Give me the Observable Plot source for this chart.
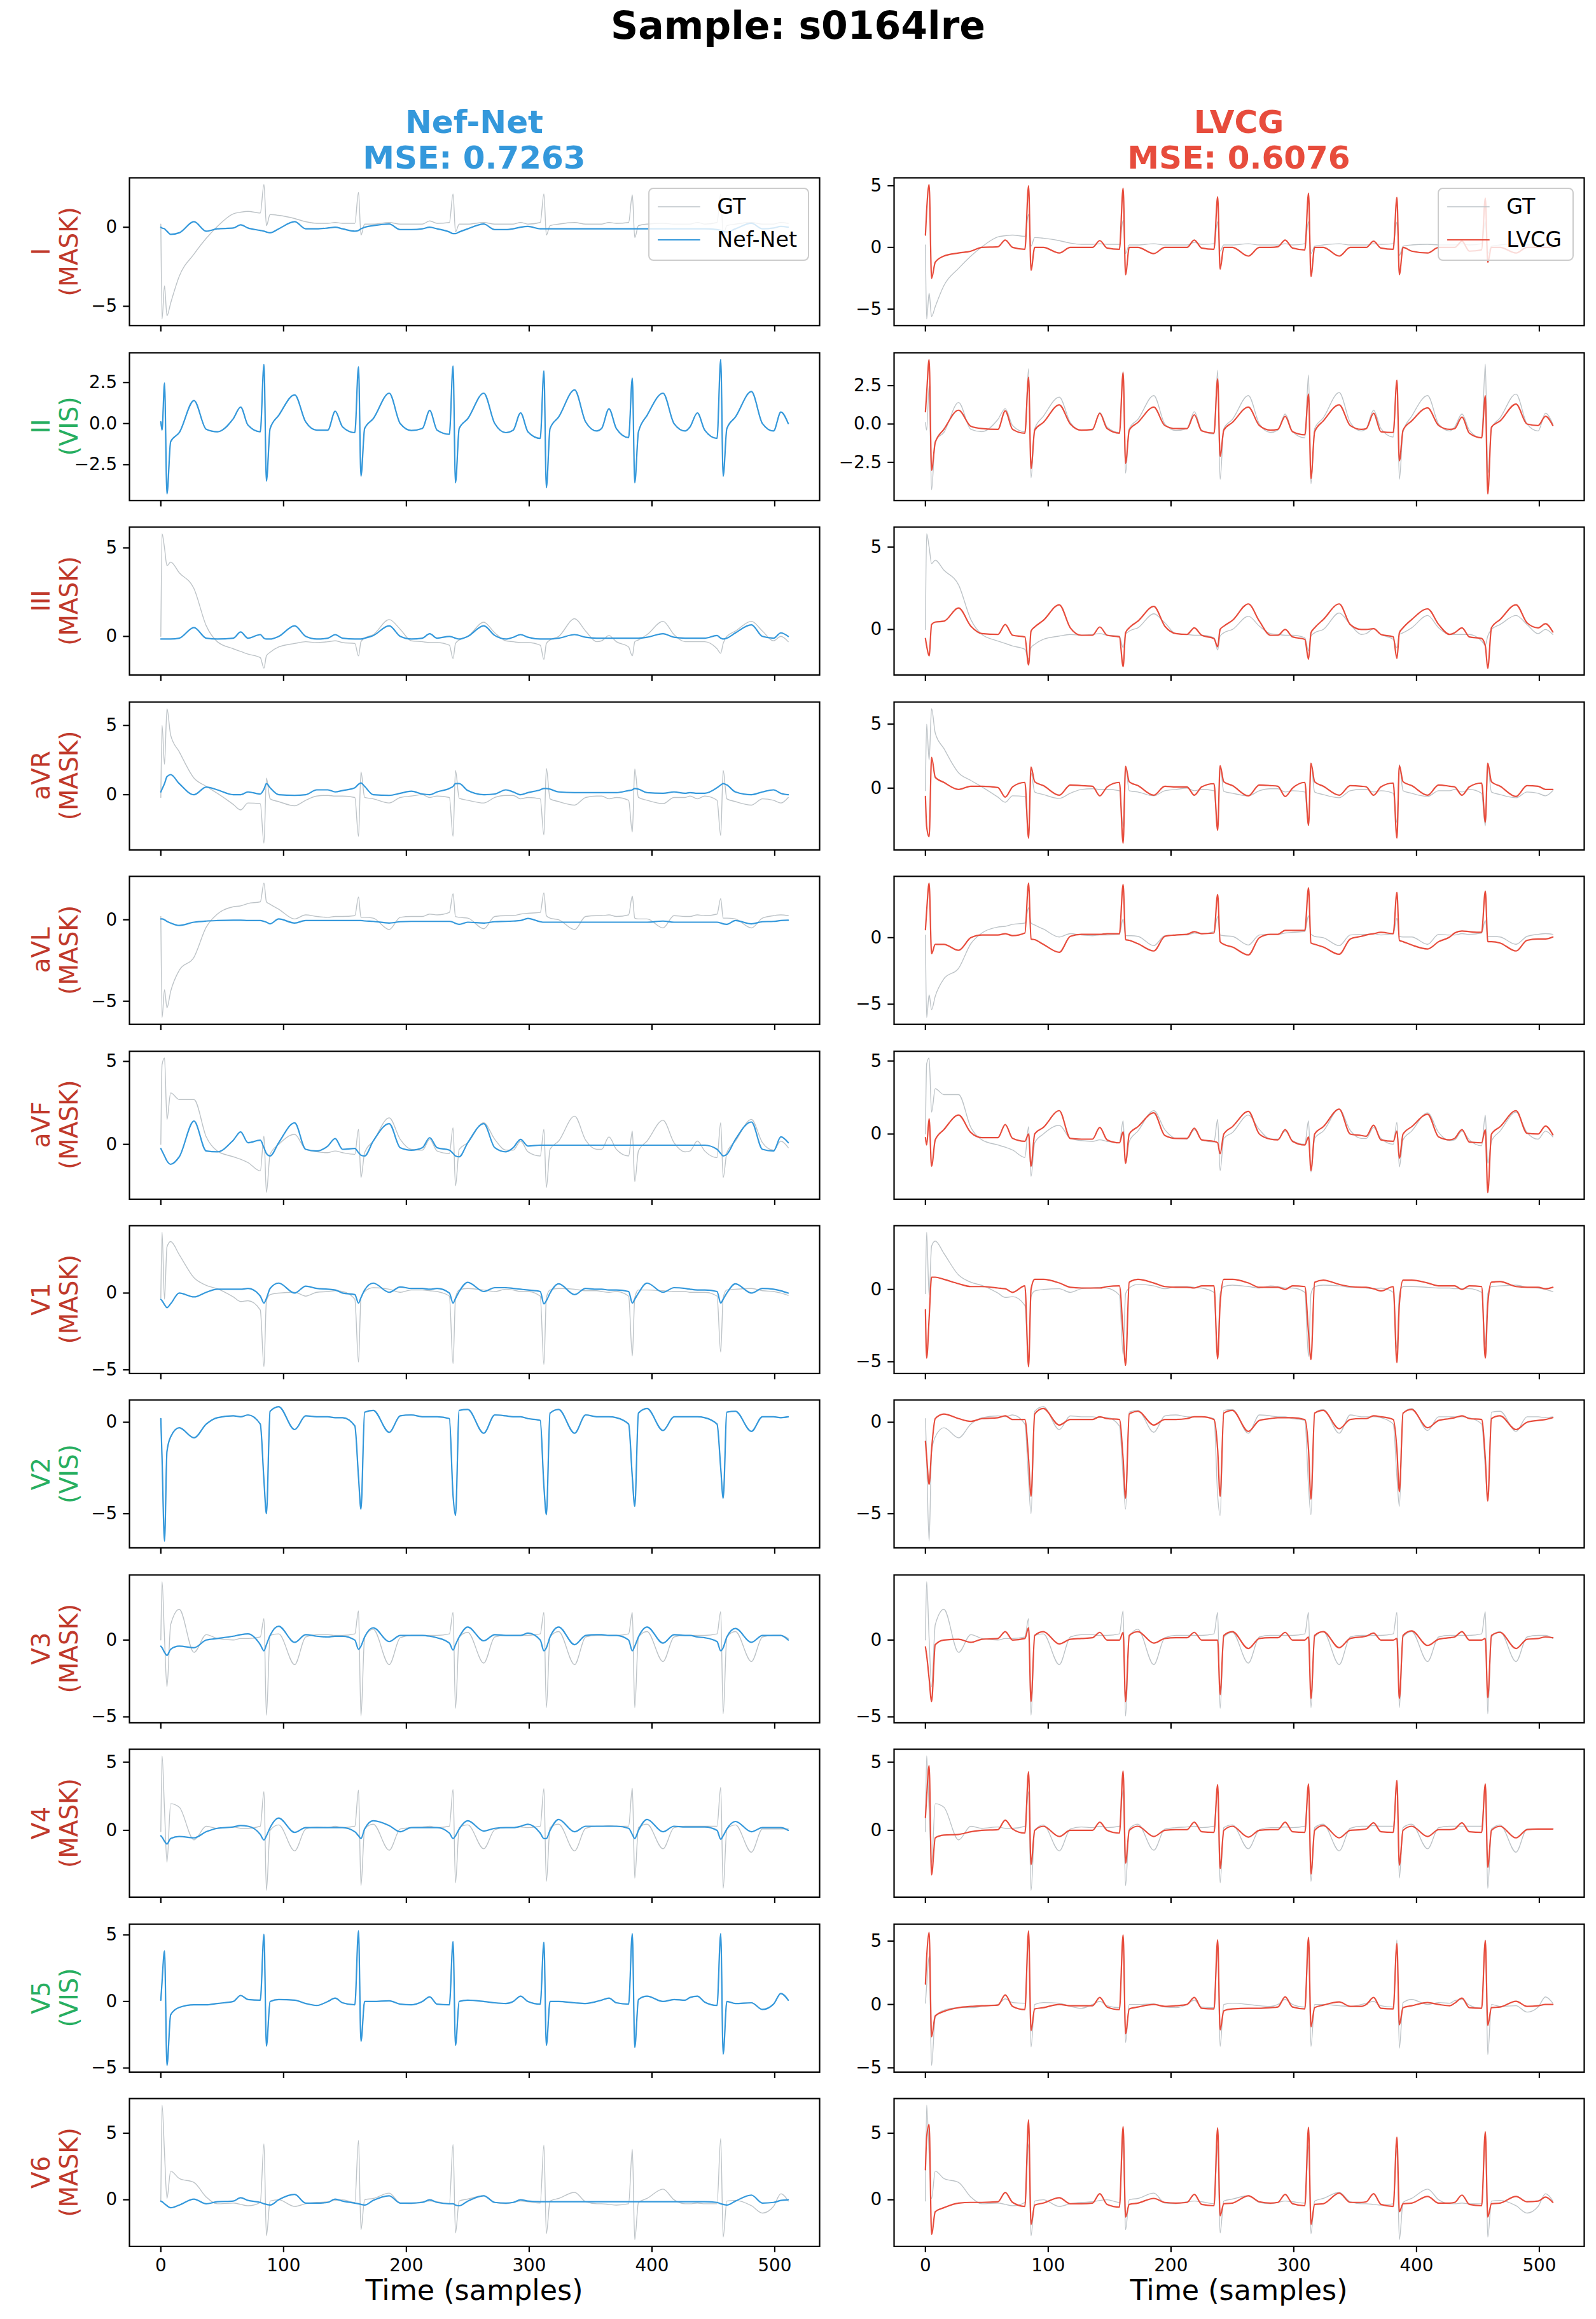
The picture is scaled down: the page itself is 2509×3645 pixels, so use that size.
<!DOCTYPE html>
<html>
<head>
<meta charset="utf-8">
<script src="https://cdn.jsdelivr.net/npm/d3@7"></script>
<script src="https://cdn.jsdelivr.net/npm/@observablehq/plot@0.6"></script>
<style>
  html, body { margin: 0; padding: 0; background: #fff; }
  #fig { position: relative; width: 2509px; height: 3645px; background: #fff; overflow: hidden; }
  #fig > svg { position: absolute; }
</style>
</head>
<body>
<div id="fig"></div>
<script>
// ---- ECG reconstruction data (12 leads, 512 samples, values in mV) ----
// Sample positions at which every series below is given.
const t = [
  0, 1, 3, 5, 8, 15, 27, 37, 46,
  59, 65, 71, 81, 84, 86, 89, 96, 109, 118, 127,
  136, 142, 148, 158, 161, 163, 166, 173, 186, 195, 204,
  213, 219, 225, 235, 238, 240, 243, 250, 263, 272, 281,
  287, 293, 299, 309, 312, 314, 317, 324, 337, 346, 355,
  359, 365, 371, 381, 384, 386, 389, 396, 409, 418, 427,
  431, 437, 443, 453, 456, 458, 461, 468, 481, 490, 499,
  505, 511
];

const leads = ["I", "II", "III", "aVR", "aVL", "aVF", "V1", "V2", "V3", "V4", "V5", "V6"];
const leadStatus = ["MASK", "VIS", "MASK", "MASK", "MASK", "MASK", "MASK", "VIS", "MASK", "MASK", "VIS", "MASK"];

const sampleId = "s0164lre";
const modelNames = ["Nef-Net", "LVCG"];
const modelMse = [0.7263, 0.6076];

const xTicks = [0, 100, 200, 300, 400, 500];
const yTicksNefNet = [[-5, 0], [-2.5, 0, 2.5], [0, 5], [0, 5], [-5, 0], [0, 5], [-5, 0], [-5, 0], [-5, 0], [0, 5], [-5, 0, 5], [0, 5]];
const yTicksLvcg   = [[-5, 0, 5], [-2.5, 0, 2.5], [0, 5], [0, 5], [-5, 0], [0, 5], [-5, 0], [-5, 0], [-5, 0], [0, 5], [-5, 0, 5], [0, 5]];

// Ground truth
const gtI = [0.2,-5.8,-3.7,-5.6,-4.8,-3.1,-1.7,-0.7,0.05,
  0.85,0.95,1.0,0.9,2.7,0.1,0.8,0.75,0.55,0.35,0.25,
  0.25,0.3,0.25,0.25,2.2,-0.5,0.2,0.2,0.3,0.2,0.2,
  0.2,0.4,0.25,0.3,2.1,-0.3,0.2,0.2,0.3,0.2,0.2,
  0.2,0.3,0.2,0.3,2.1,-0.5,0.1,0.2,0.3,0.2,0.2,
  0.2,0.3,0.25,0.3,2.05,-0.65,0.1,0.2,0.25,0.2,0.2,
  0.2,0.3,0.2,0.3,2.1,-0.5,0.1,0.2,0.3,0.2,0.2,
  0.3,0.25];
const gtII = [0.1,-0.4,2.47,-4.28,-1.1,-0.55,1.4,-0.35,-0.5,
  0.3,1.0,-0.1,-0.5,3.6,-3.5,-0.3,0.5,1.75,0.1,-0.4,
  -0.4,0.75,-0.2,-0.55,3.45,-3.2,-0.3,0.3,1.85,0.0,-0.42,
  -0.3,0.8,-0.4,-0.65,3.5,-3.6,-0.3,0.3,1.85,0.0,-0.55,
  -0.4,0.65,-0.5,-0.9,3.2,-3.9,-0.3,0.4,2.05,0.1,-0.45,
  -0.3,0.9,-0.3,-0.85,2.77,-3.6,-0.5,0.5,1.85,0.0,-0.45,
  -0.2,0.65,-0.4,-0.9,3.9,-3.2,-0.3,0.4,1.95,0.0,-0.45,
  0.7,0.0];
const gtIII = [0.0,5.8,5.0,4.0,4.2,3.6,2.7,0.6,-0.3,
  -0.7,-0.85,-1.0,-1.2,-1.8,-1.1,-0.9,-0.6,-0.4,-0.3,-0.35,
  -0.3,-0.25,-0.35,-0.4,-1.1,-0.3,-0.1,0.1,0.95,0.4,-0.25,
  -0.3,-0.35,-0.35,-0.5,-1.25,-0.4,-0.2,0.0,0.8,0.2,-0.25,
  -0.3,-0.35,-0.35,-0.5,-1.3,-0.4,-0.2,0.0,1.0,0.3,-0.3,
  -0.25,0.05,-0.3,-0.6,-1.1,-0.3,-0.2,0.1,0.85,0.1,-0.3,
  -0.3,-0.3,-0.3,-0.7,-0.95,-0.4,0.0,0.3,0.85,0.3,-0.25,
  0.0,-0.3];
const gtAVR = [-0.2,5.0,2.2,6.2,4.3,3.1,1.2,0.6,0.1,
  -0.7,-1.1,-0.6,-0.65,-3.5,1.2,-0.3,-0.5,-0.8,-0.4,-0.1,
  -0.05,-0.1,-0.1,-0.2,-3.0,1.65,-0.2,-0.3,-0.6,-0.2,-0.1,
  0.0,-0.2,-0.1,-0.2,-3.0,1.75,-0.25,-0.4,-0.6,-0.2,-0.05,
  -0.05,-0.3,-0.2,-0.3,-2.9,1.9,-0.3,-0.5,-0.75,-0.2,-0.1,
  -0.1,-0.3,-0.2,-0.4,-2.7,1.85,-0.2,-0.4,-0.65,-0.2,-0.2,
  -0.1,-0.3,-0.1,-0.4,-2.95,1.75,-0.3,-0.5,-0.75,-0.3,-0.4,
  -0.6,-0.2];
const gtAVL = [0.2,-6.0,-4.3,-5.4,-4.4,-3.1,-2.3,-0.45,0.35,
  0.8,0.85,1.0,1.1,2.25,1.1,0.95,0.65,0.05,0.3,0.2,
  0.15,0.2,0.2,0.25,1.4,0.15,0.15,0.1,-0.6,0.15,0.2,
  0.2,0.35,0.3,0.45,1.6,0.2,0.15,0.1,-0.55,0.2,0.25,
  0.25,0.35,0.4,0.45,1.65,0.25,0.1,0.0,-0.6,0.2,0.25,
  0.25,0.3,0.2,0.3,1.45,0.1,0.05,0.05,-0.5,0.25,0.2,
  0.2,0.3,0.25,0.35,1.3,0.1,0.1,0.05,-0.5,0.1,0.25,
  0.3,0.25];
const gtAVF = [0.0,4.8,5.2,1.5,3.1,2.7,2.7,0.45,-0.4,
  -0.75,-0.9,-1.1,-1.6,0.5,-2.9,-0.6,0.0,0.6,-0.3,-0.45,
  -0.5,-0.4,-0.5,-0.6,0.9,-2.0,-0.5,0.2,1.6,0.3,-0.3,
  -0.35,0.3,-0.4,-0.55,1.0,-2.5,-0.3,0.1,1.3,0.3,-0.35,
  -0.35,0.2,-0.45,-0.7,0.9,-2.6,-0.3,0.2,1.7,0.25,-0.3,
  -0.3,0.45,-0.3,-0.7,0.8,-2.25,-0.4,0.2,1.45,0.1,-0.45,
  -0.4,0.2,-0.4,-0.8,1.3,-2.0,-0.5,0.2,1.5,0.1,-0.35,
  0.2,-0.2];
const gtV1 = [-0.3,3.95,-0.4,3.0,3.35,2.5,1.0,0.5,0.28,
  -0.25,-0.55,-0.5,-1.1,-4.8,-0.5,-0.1,0.0,0.05,-0.2,0.05,
  0.1,0.15,0.1,-0.4,-4.5,-0.3,0.1,0.35,0.25,0.05,0.2,
  0.2,0.15,0.1,-0.2,-4.6,-0.3,0.2,0.3,0.2,0.1,0.25,
  0.2,0.1,0.1,-0.2,-4.65,-0.3,0.2,0.3,0.25,0.15,0.15,
  0.1,0.05,0.1,-0.2,-4.1,-0.3,0.2,0.2,0.15,0.1,0.1,
  0.05,0.05,0.05,-0.2,-3.85,-0.3,0.2,0.25,0.3,0.15,0.1,
  0.0,-0.15];
const gtV2 = [0.2,-2.0,-6.5,-1.6,-0.8,-0.3,-0.85,-0.1,0.25,
  0.35,0.3,0.4,-0.1,-3.2,-5.0,0.6,0.85,-0.4,0.35,0.3,
  0.3,0.25,0.25,-0.2,-3.0,-4.75,0.55,0.65,-0.55,0.35,0.4,
  0.3,0.3,0.3,0.2,-4.0,-5.1,0.65,0.7,-0.6,0.4,0.35,
  0.3,0.3,0.2,0.1,-3.5,-5.05,0.5,0.7,-0.6,0.4,0.3,
  0.3,0.3,0.25,-0.1,-3.0,-4.6,0.5,0.75,-0.45,0.3,0.3,
  0.3,0.3,0.25,-0.1,-2.5,-4.15,0.55,0.6,-0.5,0.3,0.3,
  0.25,0.3];
const gtV3 = [0.0,3.8,0.1,-3.05,1.0,2.0,-0.8,0.35,0.1,
  0.0,0.1,0.1,0.2,1.4,-4.9,0.3,0.4,-1.6,0.2,0.35,
  0.35,0.3,0.3,0.4,1.9,-4.95,0.2,0.7,-1.6,0.15,0.3,
  0.3,0.3,0.3,0.4,1.8,-4.45,0.2,0.5,-1.5,0.2,0.3,
  0.3,0.3,0.3,0.4,1.8,-4.4,0.2,0.55,-1.6,0.2,0.3,
  0.3,0.3,0.3,0.4,1.8,-4.4,0.2,0.55,-1.4,0.2,0.3,
  0.3,0.3,0.3,0.4,1.85,-4.8,0.2,0.55,-1.4,0.2,0.3,
  0.3,0.1];
const gtV4 = [-0.1,5.45,1.5,-2.35,1.95,1.7,-0.7,0.3,0.15,
  0.25,0.15,0.15,0.3,2.85,-4.4,0.0,0.4,-1.5,0.1,0.25,
  0.2,0.3,0.2,0.3,2.95,-4.05,0.1,0.45,-1.45,0.1,0.2,
  0.25,0.3,0.2,0.3,3.0,-3.85,0.2,0.4,-1.35,0.05,0.2,
  0.2,0.25,0.2,0.3,3.05,-3.75,0.2,0.45,-1.5,0.15,0.3,
  0.3,0.35,0.3,0.3,3.1,-3.5,0.2,0.45,-1.35,0.2,0.3,
  0.3,0.3,0.3,0.3,3.15,-4.25,0.1,0.4,-1.6,0.1,0.1,
  0.1,0.1];
const gtV5 = [0.1,1.5,3.8,-4.8,-1.0,-0.45,-0.25,-0.25,-0.15,
  0.0,0.45,0.15,0.1,5.05,-3.35,0.0,0.15,0.1,-0.15,-0.3,
  0.0,0.25,-0.1,-0.25,5.3,-3.0,0.0,0.0,0.05,-0.2,-0.25,
  0.0,0.35,-0.2,-0.25,4.5,-3.3,0.0,0.1,0.0,-0.1,-0.15,
  0.0,0.4,0.0,-0.2,4.45,-3.3,0.0,0.0,-0.1,-0.15,0.0,
  0.1,0.25,-0.1,-0.2,5.1,-3.45,0.15,0.4,0.0,0.15,0.1,
  0.3,0.4,-0.05,-0.3,5.1,-3.95,0.0,-0.15,-0.1,-0.6,-0.2,
  0.6,0.1];
const gtV6 = [-0.1,7.1,3.5,0.1,2.15,1.6,1.3,0.2,-0.3,
  -0.25,-0.35,-0.45,-0.2,4.2,-2.7,-0.1,0.0,-0.5,-0.3,-0.2,
  -0.15,-0.05,0.0,-0.2,4.45,-2.25,0.0,0.1,0.5,-0.25,-0.3,
  -0.15,-0.1,-0.15,-0.3,4.15,-2.5,-0.1,0.05,0.3,-0.2,-0.3,
  -0.2,-0.1,-0.15,-0.25,4.1,-2.55,-0.1,0.1,0.55,-0.15,-0.3,
  -0.3,-0.35,-0.4,-0.3,3.8,-3.0,-0.2,0.1,0.8,0.0,-0.3,
  -0.3,-0.25,-0.3,-0.3,4.6,-2.8,-0.1,-0.05,-0.45,-1.0,-0.5,
  0.45,-0.1];

// Nef-Net reconstructions of the masked leads
const nefI = [0.0,-0.05,-0.1,-0.25,-0.45,-0.35,0.35,-0.25,-0.1,
  -0.05,0.15,-0.05,-0.2,-0.25,-0.3,-0.35,-0.1,0.35,-0.1,-0.1,
  -0.05,0.0,-0.1,-0.25,-0.2,-0.1,0.0,0.1,0.2,-0.15,-0.15,
  -0.1,0.0,-0.1,-0.3,-0.4,-0.4,-0.3,-0.1,0.2,-0.15,-0.15,
  -0.1,0.0,0.05,-0.1,-0.1,-0.1,-0.1,-0.1,-0.1,-0.1,-0.1,
  -0.1,-0.1,-0.1,-0.1,-0.1,-0.1,-0.1,-0.1,-0.1,-0.1,-0.1,
  -0.1,-0.1,-0.1,-0.15,-0.2,-0.25,-0.3,-0.1,0.25,-0.1,-0.05,
  0.05,0.0];
const nefIII = [-0.15,-0.15,-0.15,-0.15,-0.15,-0.1,0.5,-0.1,-0.15,
  -0.1,0.25,-0.1,0.1,-0.1,-0.15,-0.15,0.0,0.6,0.0,-0.15,
  -0.1,0.1,-0.1,-0.15,-0.15,-0.15,-0.1,0.05,0.6,0.0,-0.15,
  -0.1,0.15,-0.1,0.0,-0.05,-0.1,-0.15,0.0,0.6,0.05,-0.15,
  -0.05,0.1,-0.05,-0.15,-0.15,-0.15,-0.15,-0.1,0.1,-0.05,-0.1,
  -0.1,-0.1,-0.1,-0.1,-0.1,-0.1,-0.1,-0.05,0.15,-0.05,-0.1,
  -0.1,-0.1,-0.1,0.05,-0.1,-0.15,-0.1,0.2,0.65,0.0,-0.1,
  0.2,0.0];
const nefAVR = [0.2,0.4,0.8,1.3,1.45,0.8,0.0,0.55,0.35,
  0.0,0.0,0.2,0.05,0.4,0.8,0.5,0.0,-0.05,0.0,0.35,
  0.35,0.2,0.3,0.5,0.75,0.85,0.6,0.0,-0.05,0.1,0.25,
  0.05,0.0,0.2,0.45,0.6,0.8,0.8,0.3,0.0,0.05,0.35,
  0.2,0.0,0.15,0.35,0.45,0.45,0.4,0.2,0.15,0.15,0.15,
  0.15,0.15,0.15,0.3,0.35,0.45,0.4,0.15,0.1,0.2,0.1,
  0.15,0.1,0.1,0.5,0.7,0.8,0.7,0.2,0.0,0.2,0.35,
  0.1,0.0];
const nefAVL = [0.05,0.05,0.0,-0.1,-0.2,-0.35,-0.15,-0.08,-0.05,
  -0.03,-0.03,-0.05,-0.05,-0.1,-0.15,-0.25,0.05,-0.2,-0.05,-0.05,
  -0.05,-0.05,-0.05,-0.05,-0.05,-0.05,-0.07,-0.1,-0.2,-0.12,-0.1,
  -0.1,-0.1,-0.1,-0.1,-0.15,-0.22,-0.28,-0.15,-0.2,-0.12,-0.1,
  -0.08,-0.05,0.08,-0.12,-0.15,-0.15,-0.15,-0.15,-0.15,-0.15,-0.15,
  -0.15,-0.15,-0.15,-0.15,-0.15,-0.15,-0.15,-0.15,-0.08,-0.15,-0.15,
  -0.15,-0.15,-0.15,-0.15,-0.2,-0.25,-0.28,-0.05,-0.25,-0.12,-0.1,
  -0.05,-0.03];
const nefAVF = [-0.25,-0.4,-0.7,-1.0,-1.2,-0.75,1.4,-0.4,-0.45,
  0.25,0.75,0.1,0.25,-0.2,-0.55,-0.7,0.1,1.3,-0.3,-0.4,
  -0.1,0.35,-0.3,-0.25,-0.5,-0.65,-0.7,0.2,1.25,-0.2,-0.35,
  -0.2,0.4,-0.2,-0.35,-0.55,-0.7,-0.75,0.1,1.25,-0.2,-0.45,
  -0.2,0.3,-0.1,-0.05,-0.05,-0.05,-0.05,-0.05,-0.05,-0.05,-0.05,
  -0.05,-0.05,-0.05,-0.05,-0.05,-0.05,-0.05,-0.05,-0.05,-0.05,-0.05,
  -0.05,-0.05,-0.05,-0.3,-0.55,-0.7,-0.6,0.3,1.35,-0.3,-0.4,
  0.45,0.1];
const nefV1 = [-0.4,-0.5,-0.75,-0.95,-0.7,0.0,-0.25,0.05,0.25,
  0.25,0.25,0.3,-0.2,-0.65,-0.35,0.3,0.65,0.0,0.45,0.3,
  0.25,0.2,0.0,-0.1,-0.65,-0.3,0.2,0.65,0.05,0.4,0.3,
  0.3,0.25,0.3,0.0,-0.65,-0.35,0.1,0.7,0.1,0.35,0.35,
  0.3,0.25,0.2,0.1,-0.7,-0.5,0.0,0.6,-0.1,0.3,0.25,
  0.25,0.2,0.2,0.1,-0.65,-0.4,0.0,0.65,0.05,0.35,0.3,
  0.25,0.2,0.2,0.1,-0.65,-0.4,0.0,0.6,0.0,0.3,0.25,
  0.15,0.0];
const nefV3 = [-0.4,-0.5,-0.8,-1.0,-0.6,-0.4,-0.5,0.0,0.1,
  0.25,0.35,0.4,-0.3,-0.7,-0.3,0.3,0.9,-0.15,0.35,0.25,
  0.2,0.25,0.25,0.0,-0.6,-0.4,0.2,0.8,-0.1,0.3,0.3,
  0.3,0.25,0.15,-0.2,-0.65,-0.3,0.2,0.85,-0.05,0.35,0.3,
  0.3,0.3,0.45,0.0,-0.7,-0.5,0.2,0.85,-0.3,0.3,0.35,
  0.35,0.3,0.3,0.0,-0.7,-0.4,0.2,0.85,-0.2,0.35,0.3,
  0.3,0.2,0.15,-0.1,-0.7,-0.5,0.2,0.75,-0.15,0.3,0.3,
  0.3,0.0];
const nefV4 = [-0.4,-0.5,-0.8,-1.0,-0.6,-0.45,-0.55,-0.1,0.15,
  0.25,0.35,0.3,-0.3,-0.7,-0.4,0.2,0.9,-0.15,0.2,0.2,
  0.2,0.2,0.2,-0.1,-0.4,-0.6,0.1,0.7,0.35,-0.1,0.2,
  0.2,0.2,0.2,-0.2,-0.6,-0.4,0.1,0.7,-0.05,0.15,0.2,
  0.2,0.3,0.45,-0.2,-0.6,-0.6,0.0,0.8,-0.1,0.3,0.3,
  0.3,0.3,0.3,0.15,-0.3,-0.6,0.0,0.8,-0.1,0.3,0.25,
  0.25,0.25,0.25,0.0,-0.65,-0.4,0.1,0.65,-0.1,0.2,0.2,
  0.2,0.0];
const nefV6 = [-0.1,-0.15,-0.3,-0.45,-0.6,-0.4,0.05,-0.3,-0.15,
  -0.1,0.15,-0.05,-0.2,-0.3,-0.35,-0.4,0.0,0.4,-0.25,-0.25,
  -0.2,0.05,-0.1,-0.25,-0.3,-0.35,-0.4,-0.05,0.3,-0.25,-0.25,
  -0.2,0.0,-0.2,-0.3,-0.3,-0.4,-0.45,-0.1,0.3,-0.2,-0.25,
  -0.2,0.0,-0.1,-0.15,-0.15,-0.15,-0.15,-0.15,-0.15,-0.15,-0.15,
  -0.15,-0.15,-0.15,-0.15,-0.15,-0.15,-0.15,-0.15,-0.15,-0.15,-0.15,
  -0.15,-0.15,-0.15,-0.2,-0.3,-0.35,-0.4,-0.1,0.35,-0.25,-0.2,
  -0.05,0.0];

// LVCG reconstructions of all twelve leads
const lvcgI = [1.0,3.0,5.1,-2.5,-1.2,-0.7,-0.45,-0.3,0.0,
  0.05,0.6,0.0,-0.15,5.0,-1.85,0.0,0.0,-0.45,0.0,0.0,
  0.0,0.55,-0.05,-0.15,4.8,-2.2,0.0,0.0,-0.5,0.0,0.0,
  0.0,0.6,-0.05,-0.15,4.1,-1.75,0.0,0.0,-0.7,0.0,0.0,
  0.05,0.6,-0.05,-0.2,4.4,-2.35,0.0,0.0,-0.7,0.0,0.0,
  0.0,0.5,-0.05,-0.15,4.05,-2.2,0.0,-0.3,-0.45,0.0,0.0,
  0.0,0.5,-0.3,-0.2,4.0,-1.2,0.0,0.0,-0.45,0.0,0.0,
  0.0,0.0];
const lvcgII = [0.8,2.0,4.2,-3.0,-1.2,-0.35,0.9,-0.15,-0.3,
  -0.35,0.85,-0.35,-0.6,3.05,-2.9,-0.4,0.1,1.25,0.0,-0.4,
  -0.35,0.7,-0.3,-0.6,3.35,-2.55,-0.4,0.1,1.1,-0.1,-0.3,
  -0.3,0.6,-0.45,-0.6,2.95,-2.1,-0.4,0.1,1.1,-0.1,-0.4,
  -0.35,0.5,-0.5,-0.7,1.95,-3.55,-0.5,0.2,1.25,-0.1,-0.35,
  -0.3,0.7,-0.5,-0.55,2.85,-2.4,-0.4,0.2,1.05,-0.1,-0.35,
  -0.3,0.45,-0.6,-0.9,1.85,-4.55,-0.2,0.2,1.3,0.0,-0.1,
  0.5,-0.1];
const lvcgIII = [-0.55,-1.0,-1.6,0.3,0.45,0.5,1.3,0.2,-0.25,
  -0.3,0.3,-0.35,-0.45,-2.15,-0.1,0.15,0.55,1.5,0.1,-0.35,
  -0.35,0.15,-0.35,-0.45,-2.25,-0.2,0.1,0.5,1.4,0.2,-0.25,
  -0.3,0.1,-0.35,-0.55,-1.05,0.0,0.2,0.55,1.55,0.5,-0.35,
  -0.35,0.0,-0.45,-0.6,-1.8,-0.2,0.1,0.6,1.55,0.3,0.0,
  0.0,0.05,-0.3,-0.45,-1.75,-0.2,0.1,0.6,1.25,0.3,-0.3,
  -0.2,0.1,-0.45,-0.55,-1.0,-2.35,0.1,0.6,1.5,0.4,0.1,
  0.35,-0.15];
const lvcgAVR = [-0.65,-3.0,-3.8,2.4,0.85,0.45,-0.1,0.15,0.15,
  0.05,-0.7,0.1,0.45,-3.9,1.65,0.5,0.2,-0.55,0.25,0.2,
  0.15,-0.6,0.1,0.45,-4.3,1.7,0.5,0.2,-0.55,0.15,0.1,
  0.1,-0.55,0.1,0.35,-3.3,1.75,0.5,0.2,-0.6,0.25,0.2,
  0.15,-0.65,0.0,0.45,-2.9,1.95,0.5,0.15,-0.55,0.2,0.15,
  0.1,-0.55,0.1,0.4,-3.9,1.75,0.5,0.2,-0.55,0.25,0.15,
  0.1,-0.55,0.1,0.4,-2.65,1.95,0.5,0.15,-0.65,0.2,0.15,
  -0.1,-0.1];
const lvcgAVL = [0.6,2.0,4.1,-1.2,-0.5,-0.5,-0.95,0.0,0.2,
  0.2,0.3,0.15,0.35,4.1,-0.1,-0.15,-0.5,-1.1,0.1,0.25,
  0.25,0.25,0.3,0.3,4.0,-0.15,-0.2,-0.45,-1.0,0.1,0.2,
  0.25,0.45,0.3,0.35,3.25,-0.3,-0.5,-0.7,-1.3,0.0,0.25,
  0.25,0.55,0.55,0.55,3.75,-0.4,-0.5,-0.7,-1.25,-0.1,0.1,
  0.2,0.3,0.4,0.3,3.4,-0.2,-0.3,-0.55,-0.85,-0.3,0.05,
  0.35,0.5,0.45,0.4,3.5,-0.3,-0.3,-0.4,-1.0,-0.2,-0.1,
  -0.1,0.05];
const lvcgAVF = [-0.25,-0.75,1.05,-2.2,-0.4,0.3,1.3,0.1,-0.25,
  -0.25,0.65,-0.3,-0.5,0.0,-2.2,0.0,0.45,1.6,-0.3,-0.35,
  -0.35,0.45,-0.4,-0.6,0.15,-2.0,0.0,0.5,1.45,-0.1,-0.3,
  -0.3,0.4,-0.4,-0.5,-0.6,-1.35,0.0,0.5,1.55,0.0,-0.35,
  -0.4,0.3,-0.5,-0.75,-0.2,-2.5,0.0,0.5,1.7,0.0,-0.1,
  -0.15,0.6,-0.4,-0.5,0.2,-1.65,0.0,0.5,1.35,-0.2,-0.4,
  -0.3,0.3,-0.55,-0.6,0.3,-4.0,0.0,0.5,1.6,0.05,0.0,
  0.55,-0.05];
const lvcgV1 = [-1.4,-4.75,-2.0,0.85,0.85,0.7,0.4,0.2,0.2,
  0.1,0.05,-0.2,0.25,-5.35,0.0,0.7,0.7,0.45,0.15,0.1,
  0.1,0.1,0.2,0.25,-3.0,-5.25,0.5,0.7,0.45,0.2,0.15,
  0.15,0.1,0.25,0.25,-4.8,-1.0,0.7,0.7,0.45,0.15,0.15,
  0.15,0.0,0.25,0.2,-3.0,-4.85,0.5,0.65,0.35,0.2,0.15,
  0.15,0.05,-0.1,0.2,-5.05,-1.0,0.65,0.65,0.45,0.25,0.25,
  0.25,0.0,0.25,0.2,-4.75,-1.0,0.5,0.55,0.2,0.15,0.15,
  0.05,0.15];
const lvcgV2 = [-1.05,-1.9,-3.4,-1.5,0.2,0.45,0.2,0.05,0.2,
  0.25,0.35,0.15,0.15,-2.0,-4.05,0.45,0.75,-0.15,0.15,0.15,
  0.15,0.3,0.2,0.15,-2.0,-4.15,0.45,0.6,-0.15,0.15,0.15,
  0.2,0.3,0.3,0.15,-1.5,-4.05,0.5,0.65,-0.5,0.1,0.2,
  0.25,0.25,0.25,0.15,-1.5,-4.2,0.5,0.65,-0.35,0.15,0.2,
  0.2,0.35,0.3,0.15,-1.5,-3.8,0.5,0.7,-0.3,0.1,0.2,
  0.25,0.35,0.2,0.15,-2.0,-4.3,0.2,0.35,-0.4,0.0,0.1,
  0.15,0.25];
const lvcgV3 = [-0.45,-1.0,-2.5,-4.0,-0.3,0.0,0.05,-0.15,0.05,
  0.1,0.55,0.0,0.1,0.8,-4.0,0.3,0.55,-0.25,0.05,0.1,
  0.15,0.5,0.0,0.0,0.5,-4.0,0.3,0.55,-0.2,0.1,0.15,
  0.15,0.5,0.0,0.0,0.0,-3.55,0.3,0.55,-0.55,0.1,0.15,
  0.15,0.5,0.0,0.0,0.2,-3.8,0.3,0.55,-0.5,0.1,0.2,
  0.25,0.45,0.0,0.0,0.1,-3.8,0.3,0.6,-0.35,0.05,0.15,
  0.2,0.55,0.0,0.0,0.1,-3.75,0.3,0.5,-0.55,0.05,0.1,
  0.2,0.15];
const lvcgV4 = [0.95,2.5,4.75,-3.25,-0.55,-0.35,-0.3,-0.1,0.0,
  0.05,0.75,0.1,-0.2,4.3,-2.5,0.0,0.3,-0.45,0.0,0.0,
  0.0,0.6,0.0,-0.2,4.35,-2.4,0.0,0.3,-0.45,0.0,0.05,
  0.05,0.6,-0.1,-0.15,3.35,-2.8,0.0,0.3,-0.5,0.0,0.05,
  0.05,0.6,-0.1,-0.15,3.4,-3.2,0.0,0.35,-0.55,0.0,0.05,
  0.1,0.55,-0.1,-0.15,3.65,-2.55,0.0,0.3,-0.45,0.05,0.05,
  0.1,0.55,-0.1,-0.15,3.4,-2.7,0.0,0.3,-0.55,0.05,0.1,
  0.1,0.1];
const lvcgV5 = [1.6,3.7,5.7,-2.55,-0.9,-0.55,-0.25,-0.15,-0.1,
  -0.05,0.75,-0.15,-0.4,5.8,-2.05,-0.35,-0.25,0.0,-0.1,-0.1,
  -0.1,0.55,-0.2,-0.4,5.5,-2.3,-0.35,-0.2,0.0,-0.15,-0.1,
  0.0,0.55,-0.3,-0.35,5.1,-2.0,-0.5,-0.35,-0.3,-0.3,-0.25,
  -0.2,0.6,-0.2,-0.35,5.3,-1.75,-0.25,-0.05,0.2,-0.15,-0.15,
  0.0,0.55,-0.3,-0.35,4.8,-1.6,-0.25,-0.1,0.15,0.0,-0.1,
  0.1,0.5,-0.25,-0.3,5.05,-1.65,-0.25,-0.2,0.25,-0.15,-0.1,
  0.0,0.0];
const lvcgV6 = [2.25,4.7,5.65,-2.6,-0.9,-0.6,-0.25,-0.2,-0.2,
  -0.15,0.55,-0.2,-0.5,6.0,-1.85,-0.4,-0.25,0.15,-0.3,-0.3,
  -0.25,0.45,-0.35,-0.55,5.5,-1.3,-0.35,-0.25,0.1,-0.2,-0.25,
  -0.2,0.4,-0.35,-0.45,5.4,-1.2,-0.3,-0.25,0.3,-0.15,-0.25,
  -0.2,0.4,-0.3,-0.45,5.45,-1.85,-0.35,-0.3,0.5,-0.2,-0.2,
  -0.15,0.45,-0.35,-0.5,4.7,-0.9,-0.3,-0.25,0.25,-0.25,-0.25,
  -0.2,0.35,-0.35,-0.45,5.1,-1.3,-0.3,-0.25,0.25,-0.15,-0.1,
  0.2,-0.2];

const groundTruth = [gtI, gtII, gtIII, gtAVR, gtAVL, gtAVF, gtV1, gtV2, gtV3, gtV4, gtV5, gtV6];
// Visible leads are passed through unchanged by Nef-Net, so they reuse the ground truth.
const nefNet = [nefI, gtII, nefIII, nefAVR, nefAVL, nefAVF, nefV1, gtV2, nefV3, nefV4, gtV5, nefV6];
const lvcg = [lvcgI, lvcgII, lvcgIII, lvcgAVR, lvcgAVL, lvcgAVF, lvcgV1, lvcgV2, lvcgV3, lvcgV4, lvcgV5, lvcgV6];

// ---- styling and layout ----
const FONT = "DejaVu Sans";
const COLORS = {
  gt: "#bdc3c7",
  models: ["#3498db", "#e74c3c"],
  status: { MASK: "#c0392b", VIS: "#27ae60" }
};
const LINE_W = { gt: 1.4, pred: 2.2, spine: 2.2 };
const FIG = { width: 2509, height: 3645 };
const GRID = {
  frameLeft: [203, 1405],
  frameWidth: 1085,
  frameTop0: 279.3,
  rowPitch: 274.45,
  frameHeight: 232.4,
  xDomain: [-25.55, 536.55]
};
const TICK = { size: 9.7, pad: 9.7, font: 27.8 };
const CURVE = "monotone-x";

const fig = document.getElementById("fig");

function drawPanel(row, col) {
  const gt = groundTruth[row];
  const pred = col === 0 ? nefNet[row] : lvcg[row];
  const color = COLORS.models[col];
  const table = t.map((x, i) => ({ x, gt: gt[i], pred: pred[i] }));

  // matplotlib-style autoscale: data extent padded by 5% on each side
  const [lo, hi] = d3.extent(gt.concat(pred));
  const pad = 0.05 * (hi - lo);

  const last = row === leads.length - 1;
  const mL = col === 0 ? 203 : 140, mR = 14, mT = 12, mB = last ? 64 : 24;
  const yTicks = (col === 0 ? yTicksNefNet : yTicksLvcg)[row];
  const fractional = yTicks.some(v => !Number.isInteger(v));

  const svg = Plot.plot({
    width: mL + GRID.frameWidth + mR,
    height: mT + GRID.frameHeight + mB,
    marginLeft: mL, marginRight: mR, marginTop: mT, marginBottom: mB,
    style: { fontFamily: FONT, fontSize: TICK.font + "px", background: "transparent", color: "black", overflow: "visible" },
    x: { domain: GRID.xDomain },
    y: { domain: [lo - pad, hi + pad] },
    marks: [
      Plot.line(table, { x: "x", y: "gt", stroke: COLORS.gt, strokeWidth: LINE_W.gt, curve: CURVE }),
      Plot.line(table, { x: "x", y: "pred", stroke: color, strokeWidth: LINE_W.pred, curve: CURVE }),
      Plot.frame({ stroke: "black", strokeWidth: LINE_W.spine }),
      Plot.axisX({
        ticks: xTicks, tickSize: TICK.size, tickPadding: TICK.pad, strokeWidth: LINE_W.spine,
        tickFormat: last ? "d" : () => "", label: null, fontSize: TICK.font
      }),
      Plot.axisY({
        ticks: yTicks, tickSize: TICK.size, tickPadding: TICK.pad, strokeWidth: LINE_W.spine,
        tickFormat: fractional ? ".1f" : "d", label: null, fontSize: TICK.font
      })
    ]
  });
  svg.style.position = "absolute";
  svg.style.left = (GRID.frameLeft[col] - mL) + "px";
  svg.style.top = (GRID.frameTop0 + row * GRID.rowPitch - mT) + "px";
  svg.style.maxWidth = "none";
  fig.appendChild(svg);

  if (row === 0) addLegend(svg, mL, mT, [
    { label: "GT", color: COLORS.gt, width: LINE_W.gt },
    { label: modelNames[col], color, width: LINE_W.pred }
  ]);
}

// Legend box in the upper-right corner of the first panel of each column
function addLegend(svg, mL, mT, items) {
  const fs = 33.3, inset = 17, padL = 14, padR = 18, handle = 66.6, gap = 26.6;
  const rowY = [29, 81], boxH = 113;
  const g = d3.select(svg).append("g")
    .attr("font-family", FONT).attr("font-size", fs)
    .attr("text-anchor", "start");
  const box = g.append("rect");
  const labels = items.map(d => g.append("text")
    .attr("text-anchor", "start")
    .attr("dominant-baseline", "central").attr("fill", "black").text(d.label));
  const textW = d3.max(labels, s => s.node().getComputedTextLength());
  const boxW = padL + handle + gap + textW + padR;
  const x0 = mL + GRID.frameWidth - inset - boxW;
  const y0 = mT + inset;
  box.attr("x", x0).attr("y", y0).attr("width", boxW).attr("height", boxH)
    .attr("rx", 7).attr("fill", "white").attr("fill-opacity", 0.8)
    .attr("stroke", "#cccccc").attr("stroke-width", 2);
  items.forEach((d, i) => {
    const cy = y0 + rowY[i];
    g.append("line").attr("x1", x0 + padL).attr("x2", x0 + padL + handle)
      .attr("y1", cy).attr("y2", cy)
      .attr("stroke", d.color).attr("stroke-width", d.width);
    labels[i].attr("x", x0 + padL + handle + gap).attr("y", cy).raise();
  });
}

// Titles, lead labels and axis labels
const overlay = d3.select(fig).append("svg")
  .attr("width", FIG.width).attr("height", FIG.height)
  .style("left", "0px").style("top", "0px")
  .attr("font-family", FONT);

overlay.append("text")
  .attr("x", FIG.width / 2).attr("y", 61)
  .attr("text-anchor", "middle").attr("font-weight", "bold").attr("font-size", 60)
  .text(`Sample: ${sampleId}`);

[0, 1].forEach(col => {
  const cx = GRID.frameLeft[col] + GRID.frameWidth / 2;
  const title = overlay.append("text")
    .attr("text-anchor", "middle").attr("font-weight", "bold").attr("font-size", 50)
    .attr("fill", COLORS.models[col]);
  title.append("tspan").attr("x", cx).attr("y", 209.3).text(modelNames[col]);
  title.append("tspan").attr("x", cx).attr("y", 265).text(`MSE: ${modelMse[col].toFixed(4)}`);

  overlay.append("text")
    .attr("x", cx).attr("y", 3615)
    .attr("text-anchor", "middle").attr("font-size", 44.4)
    .text("Time (samples)");
});

leads.forEach((lead, row) => {
  const cy = GRID.frameTop0 + row * GRID.rowPitch + GRID.frameHeight / 2;
  const status = leadStatus[row];
  [[64, lead], [108, `(${status})`]].forEach(([cx, str]) => {
    overlay.append("text")
      .attr("transform", `translate(${cx},${cy}) rotate(-90)`)
      .attr("text-anchor", "middle").attr("dominant-baseline", "central")
      .attr("font-size", 38.9).attr("fill", COLORS.status[status])
      .text(str);
  });
});

for (let row = 0; row < leads.length; row++) {
  drawPanel(row, 0);
  drawPanel(row, 1);
}
</script>
</body>
</html>
